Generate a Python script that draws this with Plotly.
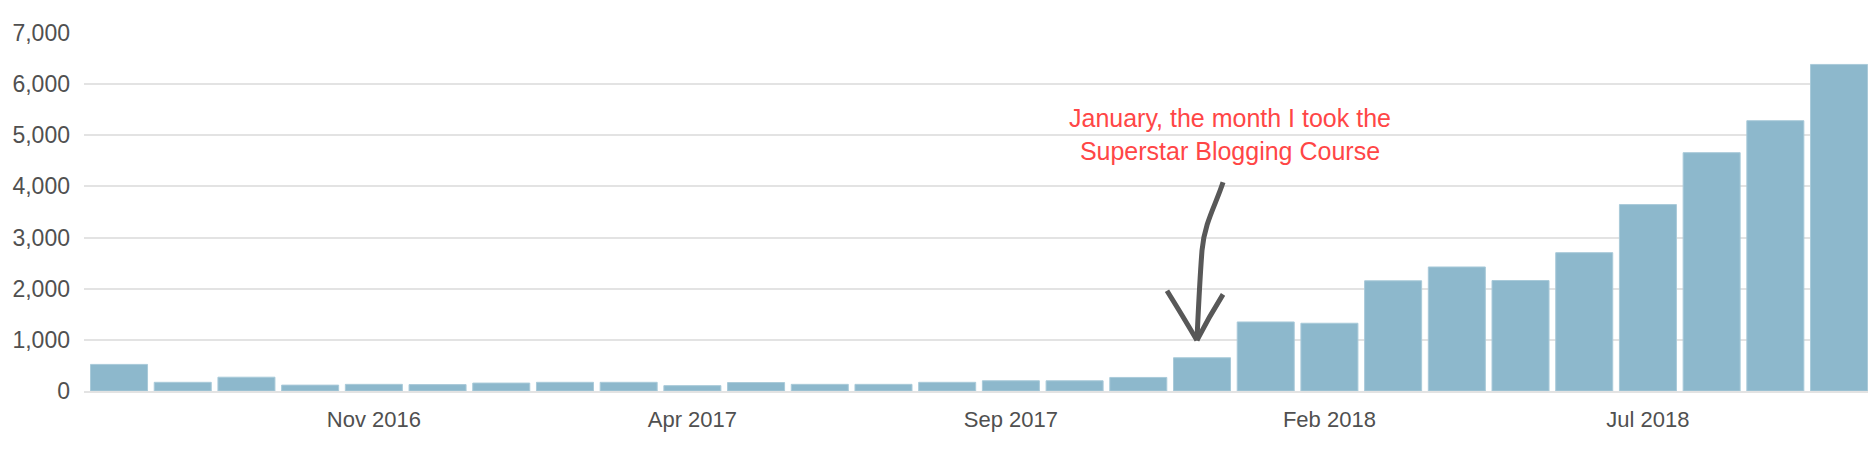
import plotly.graph_objects as go

months = [
    "Jul 2016", "Aug 2016", "Sep 2016", "Oct 2016", "Nov 2016", "Dec 2016",
    "Jan 2017", "Feb 2017", "Mar 2017", "Apr 2017", "May 2017", "Jun 2017",
    "Jul 2017", "Aug 2017", "Sep 2017", "Oct 2017", "Nov 2017", "Dec 2017",
    "Jan 2018", "Feb 2018", "Mar 2018", "Apr 2018", "May 2018", "Jun 2018",
    "Jul 2018", "Aug 2018", "Sep 2018", "Oct 2018", "Nov 2018",
]
views = [
    520, 170, 270, 115, 130, 125, 155, 170, 170, 105, 165, 130, 130, 170,
    200, 200, 265, 650, 1350, 1325, 2155, 2425, 2160, 2705, 3645, 4660,
    5285, 6385, 4510,
]
tick_labels = ["Nov 2016", "Apr 2017", "Sep 2017", "Feb 2018", "Jul 2018"]
y_ticks = [0, 1000, 2000, 3000, 4000, 5000, 6000, 7000]
note_text = "January, the month I took the<br>Superstar Blogging Course"
note_month = "Dec 2017"

x_idx = list(range(len(months)))
tick_idx = [months.index(m) for m in tick_labels]
ni = months.index(note_month)

FONT = "Liberation Sans, Arial, Helvetica, sans-serif"
GRID = "#e3e3e3"

fig = go.Figure(
    go.Bar(
        x=x_idx,
        y=views,
        marker=dict(color="#8db8cc", line=dict(color="#a9cad9", width=1)),
        hoverinfo="skip",
    )
)

# hand-drawn style arrow pointing at the marked month
arrow_color = "#585858"
AW = 5
shapes = [
    dict(type="path", xref="x", yref="y",
         path=(f"M {ni+0.33},4080 C {ni+0.22},3650 {ni+0.04},3300 {ni+0.0},2750 "
               f"C {ni-0.04},2100 {ni-0.06},1500 {ni-0.08},990"),
         line=dict(color=arrow_color, width=AW)),
    dict(type="path", xref="x", yref="y",
         path=f"M {ni-0.55},1960 Q {ni-0.28},1420 {ni-0.08},990",
         line=dict(color=arrow_color, width=AW)),
    dict(type="path", xref="x", yref="y",
         path=f"M {ni+0.33},1890 Q {ni+0.10},1430 {ni-0.08},990",
         line=dict(color=arrow_color, width=AW)),
]

fig.update_layout(
    width=1868,
    height=462,
    margin=dict(l=76, r=0, t=25, b=79),
    paper_bgcolor="white",
    plot_bgcolor="white",
    bargap=0.105,
    showlegend=False,
    font=dict(family=FONT, size=22, color="#555555"),
    shapes=shapes,
    annotations=[
        dict(
            x=ni + 0.44, y=5010, xref="x", yref="y",
            text=note_text, showarrow=False,
            font=dict(family=FONT, size=25, color="#ff4646"),
            align="center", xanchor="center", yanchor="middle",
        )
    ],
)

fig.update_xaxes(
    range=[-0.55, 27.58],
    tickmode="array",
    tickvals=tick_idx,
    ticktext=tick_labels,
    tickfont=dict(size=22, color="#505050"),
    showgrid=False,
    zeroline=False,
    showline=True,
    linecolor=GRID,
    linewidth=2,
    ticks="",
    ticklabelstandoff=8,
    fixedrange=True,
)
fig.update_yaxes(
    range=[0, 7000],
    tickmode="array",
    tickvals=y_ticks,
    ticktext=[f"{v:,}" for v in y_ticks],
    tickfont=dict(size=23, color="#505050"),
    showgrid=True,
    gridcolor=GRID,
    gridwidth=2,
    zeroline=False,
    showline=False,
    ticks="",
    ticklabelstandoff=13,
    fixedrange=True,
)

fig.write_html("out.html", config={"displayModeBar": False})
